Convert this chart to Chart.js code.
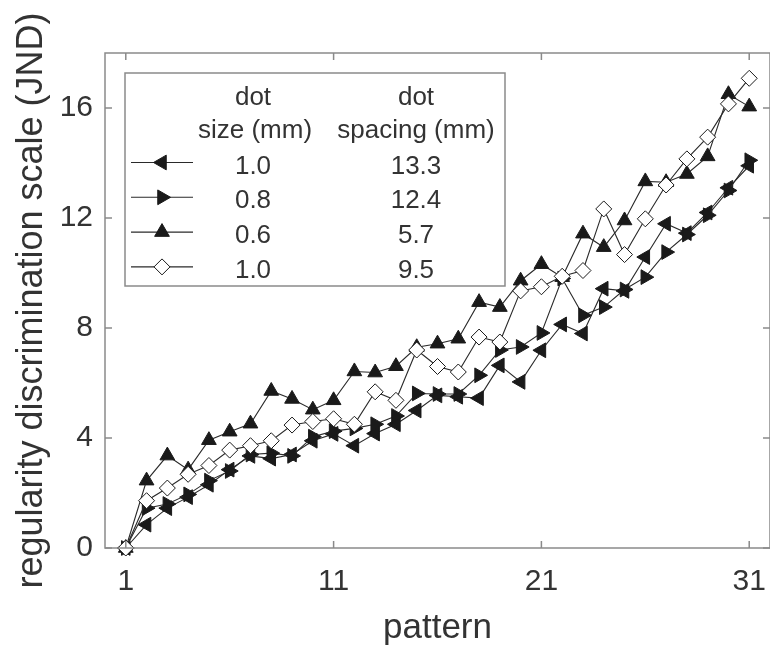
<!DOCTYPE html>
<html>
<head>
<meta charset="utf-8">
<script src="https://cdn.jsdelivr.net/npm/chart.js@4.4.1/dist/chart.umd.min.js"></script>
<style>
  html, body { margin: 0; padding: 0; background: #fff; }
  #wrap { width: 770px; height: 656px; }
</style>
</head>
<body>
<div id="wrap"><canvas id="jndChart" width="770" height="656"></canvas></div>
<script>
const patterns = [1, 2, 3, 4, 5, 6, 7, 8, 9, 10, 11, 12, 13, 14, 15, 16,
  17, 18, 19, 20, 21, 22, 23, 24, 25, 26, 27, 28, 29, 30, 31];

// dot size 1.0 mm, spacing 13.3 mm (left triangles)
const size10sp133 = [0, 0.85, 1.45, 1.85, 2.3, 2.85, 3.35, 3.25, 3.4, 3.9, 4.15,
  3.72, 4.16, 4.5, 5.0, 5.55, 5.5, 5.45, 6.64, 6.04, 7.19,
  8.13, 7.8, 9.43, 9.35, 10.58, 11.79, 11.45, 12.2, 13.1, 13.9];

// dot size 0.8 mm, spacing 12.4 mm (right triangles)
const size08sp124 = [0, 1.45, 1.6, 1.95, 2.45, 2.8, 3.4, 3.45, 3.35, 4.05, 4.25,
  4.35, 4.5, 4.8, 5.62, 5.6, 5.6, 6.28, 7.2, 7.31, 7.82,
  9.8, 8.46, 8.76, 9.4, 9.85, 10.76, 11.4, 12.1, 13.0, 14.1];

// dot size 0.6 mm, spacing 5.7 mm (up triangles)
const size06sp57 = [0, 2.45, 3.36, 2.85, 3.92, 4.23, 4.52, 5.71, 5.42, 5.03, 5.37,
  6.42, 6.38, 6.61, 7.3, 7.43, 7.61, 8.94, 8.76, 9.72, 10.32,
  9.85, 11.43, 10.94, 11.91, 13.33, 13.3, 13.6, 14.24, 16.5, 16.05];

// dot size 1.0 mm, spacing 9.5 mm (open diamonds)
const size10sp95 = [0, 1.72, 2.18, 2.68, 3.0, 3.56, 3.72, 3.9, 4.47, 4.6, 4.7,
  4.5, 5.68, 5.37, 7.2, 6.6, 6.4, 7.67, 7.49, 9.35, 9.5,
  9.88, 10.09, 12.33, 10.67, 11.97, 13.2, 14.15, 14.94, 16.15, 17.08];

const dotSizes = ["1.0", "0.8", "0.6", "1.0"];
const dotSpacings = ["13.3", "12.4", "5.7", "9.5"];
const xTicks = [1, 11, 21, 31];
const yTicks = [0, 4, 8, 12, 16];

const FONT = '"Liberation Sans", Arial, Helvetica, sans-serif';
const TEXT = "#333";
const FRAME = "#8a8a8a";
const INK = "#1a1a1a";

const markers = [
  { pointStyle: "triangle", rotation: -90, radius: 8.5, fill: INK },
  { pointStyle: "triangle", rotation: 90, radius: 8.5, fill: INK },
  { pointStyle: "triangle", rotation: 0, radius: 8.5, fill: INK },
  { pointStyle: "rectRot", rotation: 0, radius: 8, fill: "#fff" },
];

const series = [size10sp133, size08sp124, size06sp57, size10sp95];
// diamonds sit on top of the filled markers
const drawOrder = [3, 2, 1, 0];

const datasets = series.map((values, i) => ({
  label: dotSizes[i] + " / " + dotSpacings[i],
  data: patterns.map((p, j) => ({ x: p, y: values[j] })),
  borderColor: "#2a2a2a",
  borderWidth: 1.1,
  pointStyle: markers[i].pointStyle,
  pointRotation: markers[i].rotation,
  pointRadius: markers[i].radius,
  pointBackgroundColor: markers[i].fill,
  pointBorderColor: INK,
  pointBorderWidth: 1,
  tension: 0,
  clip: false,
  order: drawOrder[i],
}));

// box around the plot with inward tick marks on all four sides
const frame = {
  id: "frame",
  afterDatasetsDraw(chart) {
    const { ctx, chartArea: a, scales } = chart;
    ctx.save();
    ctx.strokeStyle = FRAME;
    ctx.lineWidth = 1.5;
    ctx.strokeRect(a.left, a.top, a.right - a.left, a.bottom - a.top);
    ctx.beginPath();
    xTicks.forEach(v => {
      const x = scales.x.getPixelForValue(v);
      ctx.moveTo(x, a.bottom); ctx.lineTo(x, a.bottom - 7);
      ctx.moveTo(x, a.top); ctx.lineTo(x, a.top + 7);
    });
    yTicks.forEach(v => {
      const y = scales.y.getPixelForValue(v);
      ctx.moveTo(a.left, y); ctx.lineTo(a.left + 7, y);
      ctx.moveTo(a.right, y); ctx.lineTo(a.right - 7, y);
    });
    ctx.stroke();
    ctx.restore();
  }
};

function drawMarker(ctx, m, x, y) {
  ctx.fillStyle = m.fill;
  ctx.strokeStyle = INK;
  ctx.lineWidth = 1;
  Chart.helpers.drawPoint(ctx, {
    pointStyle: m.pointStyle, rotation: m.rotation, radius: m.radius, borderWidth: 1
  }, x, y);
}

// two-column legend table: dot size and dot spacing
const table = {
  id: "table",
  afterDraw(chart) {
    const ctx = chart.ctx;
    const box = { left: 125, top: 73, right: 505, bottom: 286 };
    ctx.save();
    ctx.fillStyle = "#fff";
    ctx.fillRect(box.left, box.top, box.right - box.left, box.bottom - box.top);
    ctx.strokeStyle = FRAME;
    ctx.lineWidth = 1.5;
    ctx.strokeRect(box.left, box.top, box.right - box.left, box.bottom - box.top);

    ctx.font = "26px " + FONT;
    ctx.fillStyle = TEXT;
    ctx.textAlign = "center";
    ctx.textBaseline = "alphabetic";
    ctx.fillText("dot", 253, 105);
    ctx.fillText("size (mm)", 255, 138);
    ctx.fillText("dot", 416, 105);
    ctx.fillText("spacing (mm)", 416, 138);

    dotSizes.forEach((s, i) => {
      const y = 162.5 + i * 34.8;
      ctx.strokeStyle = "#2a2a2a";
      ctx.lineWidth = 1.1;
      ctx.beginPath();
      ctx.moveTo(131, y);
      ctx.lineTo(193, y);
      ctx.stroke();
      drawMarker(ctx, markers[i], 162, y);
      ctx.fillStyle = TEXT;
      ctx.fillText(s, 253, y + 11);
      ctx.fillText(dotSpacings[i], 416, y + 11);
    });
    ctx.restore();
  }
};

new Chart(document.getElementById("jndChart"), {
  type: "line",
  data: { datasets },
  options: {
    responsive: false,
    animation: false,
    devicePixelRatio: 1,
    layout: { autoPadding: false, padding: { top: 53, right: -2, left: 0, bottom: 0 } },
    plugins: { legend: { display: false }, tooltip: { enabled: false } },
    scales: {
      x: {
        type: "linear",
        min: 0,
        max: 32,
        afterBuildTicks: s => { s.ticks = xTicks.map(v => ({ value: v })); },
        afterFit: s => { s.height = 108; s.paddingLeft = 0; s.paddingRight = -2; },
        grid: { display: false, drawTicks: false },
        border: { display: false },
        ticks: {
          autoSkip: false, maxRotation: 0, padding: 16,
          color: TEXT, font: { family: FONT, size: 30 }
        },
        title: {
          display: true, text: "pattern", color: TEXT,
          font: { family: FONT, size: 35 }, padding: { top: 0, bottom: 7 }
        }
      },
      y: {
        min: 0,
        max: 18,
        afterBuildTicks: s => { s.ticks = yTicks.map(v => ({ value: v })); },
        afterFit: s => { s.width = 105; s.paddingTop = 0; s.paddingBottom = 0; },
        grid: { display: false, drawTicks: false },
        border: { display: false },
        ticks: {
          padding: 12, color: TEXT, font: { family: FONT, size: 30 }
        },
        title: {
          display: true, text: "regularity discrimination scale (JND)", color: TEXT,
          font: { family: FONT, size: 36 }, padding: { top: 10, bottom: 0 }
        }
      }
    }
  },
  plugins: [frame, table]
});
</script>
</body>
</html>
